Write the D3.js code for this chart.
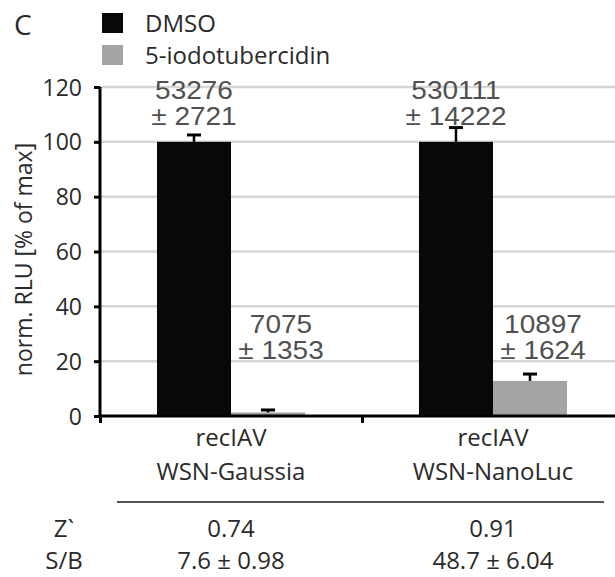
<!DOCTYPE html>
<html>
<head>
<meta charset="utf-8">
<script src="https://cdn.jsdelivr.net/npm/d3@7"></script>
<style>
  html, body { margin: 0; padding: 0; background: #fff; }
  svg { display: block; }
</style>
</head>
<body>
<div id="chart"></div>
<script>
// --- data ---
const categories = ['recIAV\nWSN-Gaussia', 'recIAV\nWSN-NanoLuc'];
const series = ['DMSO', '5-iodotubercidin'];
const dmsoValues = [100, 100];
const dmsoErrors = [2.5, 5.2];
const iodoValues = [1.3, 12.8];
const iodoErrors = [0.9, 2.5];
const dmsoLabels = [['53276', '± 2721'], ['530111', '± 14222']];
const iodoLabels = [['7075', '± 1353'], ['10897', '± 1624']];
const yTicks = [0, 20, 40, 60, 80, 100, 120];
const zPrime = ['0.74', '0.91'];
const sbRatio = ['7.6 ± 0.98', '48.7 ± 6.04'];

const colors = { 'DMSO': '#080808', '5-iodotubercidin': '#a4a4a4' };

const W = 615, H = 577;
const plot = { left: 100, right: 624, top: 87, bottom: 416 };

const svg = d3.select('#chart').append('svg')
  .attr('width', W).attr('height', H)
  .style('font-family', '"Open Sans", "Noto Sans", sans-serif');

const y = d3.scaleLinear().domain([0, 120]).range([plot.bottom, plot.top]);
const x0 = d3.scaleBand().domain(categories).range([plot.left, plot.right])
  .paddingInner(0.435).paddingOuter(0.2175);
const x1 = d3.scaleBand().domain(series).range([0, x0.bandwidth()]);

const rows = categories.map((c, i) => ({
  cat: c,
  bars: [
    { key: 'DMSO', value: dmsoValues[i], err: dmsoErrors[i], label: dmsoLabels[i] },
    { key: '5-iodotubercidin', value: iodoValues[i], err: iodoErrors[i], label: iodoLabels[i] },
  ]
}));

// gridlines
svg.append('g').selectAll('line').data(yTicks.filter(d => d > 0)).join('line')
  .attr('x1', plot.left).attr('x2', W)
  .attr('y1', d => y(d)).attr('y2', d => y(d))
  .attr('stroke', '#d6d6d6').attr('stroke-width', 2.5);

// bars
const groups = svg.append('g').selectAll('g').data(rows).join('g')
  .attr('transform', d => `translate(${x0(d.cat)},0)`);

groups.selectAll('rect').data(d => d.bars).join('rect')
  .attr('x', d => x1(d.key))
  .attr('width', x1.bandwidth())
  .attr('y', d => y(d.value))
  .attr('height', d => y(0) - y(d.value))
  .attr('fill', d => colors[d.key]);

// error bars (upper only)
const capW = 14;
const eb = groups.selectAll('g.err').data(d => d.bars).join('g').attr('class', 'err')
  .attr('transform', d => `translate(${x1(d.key) + x1.bandwidth() / 2},0)`);
eb.append('line')
  .attr('y1', d => y(d.value)).attr('y2', d => y(d.value + d.err))
  .attr('stroke', '#000').attr('stroke-width', 2.5);
eb.append('line')
  .attr('x1', -capW / 2).attr('x2', capW / 2)
  .attr('y1', d => y(d.value + d.err)).attr('y2', d => y(d.value + d.err))
  .attr('stroke', '#000').attr('stroke-width', 3);

// value labels (Arial-like, slightly wide)
const lab = groups.selectAll('g.lab').data(d => d.bars).join('g').attr('class', 'lab')
  .attr('transform', d => {
    const cx = x1(d.key) + x1.bandwidth() / 2 + (d.key === 'DMSO' ? 0 : 13);
    const top = d.key === 'DMSO' ? 99 : 333;
    return `translate(${cx},${top}) scale(1.12,1)`;
  });
lab.selectAll('text').data(d => d.label).join('text')
  .attr('y', (d, i) => i * 26)
  .attr('text-anchor', 'middle')
  .style('font-family', '"Liberation Sans", Arial, sans-serif')
  .style('font-size', '25px')
  .attr('fill', '#505050')
  .text(d => d);

// y axis
const yAxis = svg.append('g').attr('transform', `translate(${plot.left},0)`)
  .call(d3.axisLeft(y).tickValues(yTicks).tickSize(6).tickPadding(12));
yAxis.select('.domain').attr('stroke', '#000').attr('stroke-width', 3)
  .attr('d', `M0,${plot.top}V${plot.bottom}`);
yAxis.selectAll('.tick line').attr('stroke', '#000').attr('stroke-width', 3);
yAxis.selectAll('.tick text')
  .style('font-family', '"Open Sans", sans-serif')
  .style('font-size', '23px').attr('fill', '#2a2a2a').attr('dy', '0.35em');

// x axis: ticks at the category boundaries
const xEdges = d3.scaleLinear().domain([0, categories.length]).range([plot.left, plot.right]);
const xAxis = svg.append('g').attr('transform', `translate(0,${plot.bottom})`)
  .call(d3.axisBottom(xEdges).tickValues(d3.range(categories.length + 1)).tickSize(7).tickFormat(''));
xAxis.select('.domain').attr('stroke', '#000').attr('stroke-width', 3)
  .attr('d', `M${plot.left - 1.5},0H${plot.right}`);
xAxis.selectAll('.tick line').attr('stroke', '#000').attr('stroke-width', 3);

// category labels
const catText = svg.append('g').selectAll('text').data(categories).join('text')
  .attr('x', d => x0(d) + x0.bandwidth() / 2)
  .attr('y', 446)
  .attr('text-anchor', 'middle')
  .style('font-size', '24px').attr('fill', '#2a2a2a');
catText.selectAll('tspan').data(d => d.split('\n')).join('tspan')
  .attr('x', function () { return d3.select(this.parentNode).attr('x'); })
  .attr('dy', (d, i) => i === 0 ? 0 : 34)
  .text(d => d);

// y axis title
svg.append('text')
  .attr('transform', `translate(32,${(plot.top + plot.bottom) / 2 + 8}) rotate(-90)`)
  .attr('text-anchor', 'middle')
  .style('font-size', '23px').attr('fill', '#2a2a2a')
  .text('norm. RLU [% of max]');

// panel letter
svg.append('text').attr('x', 14).attr('y', 35)
  .style('font-size', '28px').attr('fill', '#2a2a2a').text('C');

// legend
const leg = svg.append('g').selectAll('g').data(series).join('g')
  .attr('transform', (d, i) => `translate(102,${13 + i * 32})`);
leg.append('rect').attr('width', 21).attr('height', 20).attr('fill', d => colors[d]);
leg.append('text').attr('x', 43).attr('y', 19)
  .style('font-size', '24px').attr('fill', '#2a2a2a').text(d => d);

// stats table under the chart
svg.append('line').attr('x1', 117).attr('x2', 604).attr('y1', 502).attr('y2', 502)
  .attr('stroke', '#555').attr('stroke-width', 2);

const statRows = [['Z`', zPrime, 537], ['S/B', sbRatio, 569]];
statRows.forEach(([name, vals, yy]) => {
  svg.append('text').attr('x', 64).attr('y', yy).attr('text-anchor', 'middle')
    .style('font-size', '24px').attr('fill', '#2a2a2a').text(name);
  svg.append('g').selectAll('text').data(vals).join('text')
    .attr('x', (d, i) => x0(categories[i]) + x0.bandwidth() / 2)
    .attr('y', yy).attr('text-anchor', 'middle')
    .style('font-size', '24px').attr('fill', '#2a2a2a').text(d => d);
});
</script>
</body>
</html>
